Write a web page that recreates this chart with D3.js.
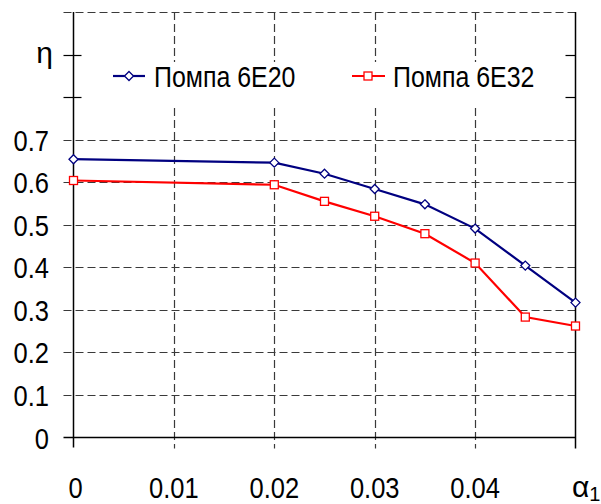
<!DOCTYPE html>
<html>
<head>
<meta charset="utf-8">
<script src="https://cdn.jsdelivr.net/npm/d3@7"></script>
<style>
  html, body { margin: 0; padding: 0; background: #fff; }
  svg { display: block; }
  text { font-family: "Liberation Sans", Arial, sans-serif; fill: #000; }
</style>
</head>
<body>
<svg id="chart" width="601" height="504"></svg>
<script>
// Relative gap α1 and efficiency η of two pumps
const alphaValues = [0, 0.02, 0.025, 0.03, 0.035, 0.04, 0.045, 0.05];
const eta6E20 = [0.654, 0.646, 0.620, 0.584, 0.548, 0.491, 0.404, 0.317];
const eta6E32 = [0.604, 0.594, 0.555, 0.520, 0.479, 0.410, 0.283, 0.262];
const seriesNames = ["Помпа 6E20", "Помпа 6E32"];
const xTickValues = [0, 0.01, 0.02, 0.03, 0.04, 0.05];
const xTickLabels = ["0", "0.01", "0.02", "0.03", "0.04", ""];
const yTickValues = [0, 0.1, 0.2, 0.3, 0.4, 0.5, 0.6, 0.7, 0.8, 0.9, 1.0];
const yTickLabels = ["0", "0.1", "0.2", "0.3", "0.4", "0.5", "0.6", "0.7", "", "", ""];
const yGridValues = [0.1, 0.2, 0.3, 0.4, 0.5, 0.6, 0.7, 1.0];

const svg = d3.select("#chart");
const pLeft = 73.5, pRight = 575.5, pTop = 12, pBottom = 437.5;

const x = d3.scaleLinear().domain([0, 0.05]).range([pLeft, pRight]);
const y = d3.scaleLinear().domain([0, 1]).range([pBottom, pTop]);

const gridColor = "#3a3a3a";
const dash = "8,4";
const narrow = 0.85;   // horizontal squeeze for the condensed lettering

// places a condensed text label at (tx, ty)
function label(parent, tx, ty, str, size, anchor, sx) {
  return parent.append("text")
    .attr("transform", `translate(${tx},${ty}) scale(${sx},1)`)
    .attr("text-anchor", anchor).attr("font-size", size)
    .text(str);
}

// horizontal dashed grid (starts left of the axis, like an outer tick)
svg.append("g").selectAll("line").data(yGridValues).join("line")
  .attr("x1", pLeft - 10).attr("x2", pRight)
  .attr("y1", d => Math.round(y(d)) + 0.5).attr("y2", d => Math.round(y(d)) + 0.5)
  .attr("stroke", gridColor).attr("stroke-width", 1.2).attr("stroke-dasharray", dash);

// vertical dashed grid (runs below the axis, like an outer tick)
svg.append("g").selectAll("line").data(xTickValues.slice(1, 5)).join("line")
  .attr("x1", d => Math.round(x(d)) + 0.5).attr("x2", d => Math.round(x(d)) + 0.5)
  .attr("y1", pTop).attr("y2", pBottom + 11)
  .attr("stroke", gridColor).attr("stroke-width", 1.2).attr("stroke-dasharray", dash);

// ticks at 0.8 and 0.9 with no grid line
svg.append("g").selectAll("line").data([0.8, 0.9]).join("line")
  .attr("x1", pLeft - 10).attr("x2", pLeft + 8)
  .attr("y1", d => Math.round(y(d)) + 0.5).attr("y2", d => Math.round(y(d)) + 0.5)
  .attr("stroke", "#000").attr("stroke-width", 1.2);
svg.append("g").selectAll("line").data([0.8, 0.9]).join("line")
  .attr("x1", pRight - 10).attr("x2", pRight)
  .attr("y1", d => Math.round(y(d)) + 0.5).attr("y2", d => Math.round(y(d)) + 0.5)
  .attr("stroke", "#000").attr("stroke-width", 1.2);

// left axis, bottom axis, right border
svg.append("line").attr("x1", pLeft).attr("x2", pLeft).attr("y1", pTop).attr("y2", pBottom + 10)
  .attr("stroke", "#000").attr("stroke-width", 1.5);
svg.append("line").attr("x1", pLeft - 10).attr("x2", pRight).attr("y1", pBottom).attr("y2", pBottom)
  .attr("stroke", "#000").attr("stroke-width", 1.5);
svg.append("line").attr("x1", pRight).attr("x2", pRight).attr("y1", pTop).attr("y2", pBottom + 11)
  .attr("stroke", "#000").attr("stroke-width", 1.5);

// y tick labels
const yl = svg.append("g");
yTickValues.forEach((v, i) => {
  if (yTickLabels[i]) label(yl, 49, y(v) + 11, yTickLabels[i], 30, "end", narrow);
});

// η at the 0.9 level
svg.append("text").attr("x", 53).attr("y", y(0.9) + 8)
  .attr("text-anchor", "end").attr("font-size", 30).text("η");

// x tick labels
const xl = svg.append("g");
xTickValues.forEach((v, i) => {
  if (xTickLabels[i]) label(xl, x(v) + (v === 0 ? 2 : 0), 498, xTickLabels[i], 30, "middle", narrow);
});

// α1 label at the end of the x axis
const al = svg.append("text").attr("x", 572).attr("y", 497).attr("font-size", 30);
al.append("tspan").text("α");
al.append("tspan").attr("font-size", 20).attr("dy", 4).text("1");

// data series
const line = d3.line().x(d => x(d[0])).y(d => y(d[1]));
const s1 = alphaValues.map((a, i) => [a, eta6E20[i]]);
const s2 = alphaValues.map((a, i) => [a, eta6E32[i]]);

svg.append("path").datum(s2).attr("d", line)
  .attr("fill", "none").attr("stroke", "#ff0000").attr("stroke-width", 2.2);
svg.append("path").datum(s1).attr("d", line)
  .attr("fill", "none").attr("stroke", "#000080").attr("stroke-width", 2.2);

const diamond = (cx, cy, r) => `M${cx},${cy - r}L${cx + r},${cy}L${cx},${cy + r}L${cx - r},${cy}Z`;

svg.append("g").selectAll("rect").data(s2).join("rect")
  .attr("x", d => x(d[0]) - 4).attr("y", d => y(d[1]) - 4)
  .attr("width", 8).attr("height", 8)
  .attr("fill", "#fff").attr("stroke", "#ff0000").attr("stroke-width", 1.3);
svg.append("g").selectAll("path").data(s1).join("path")
  .attr("d", d => diamond(x(d[0]), y(d[1]), 4.5))
  .attr("fill", "#fff").attr("stroke", "#000080").attr("stroke-width", 1.3);

// legend
const lg = svg.append("g");
lg.append("rect").attr("x", 102).attr("y", 62).attr("width", 448).attr("height", 45).attr("fill", "#fff");
const ly = 76;
lg.append("line").attr("x1", 113).attr("x2", 145).attr("y1", ly).attr("y2", ly)
  .attr("stroke", "#000080").attr("stroke-width", 2.2);
lg.append("path").attr("d", diamond(129, ly, 4.5))
  .attr("fill", "#fff").attr("stroke", "#000080").attr("stroke-width", 1.3);
label(lg, 154, ly + 11, seriesNames[0], 29, "start", 0.86);
lg.append("line").attr("x1", 352).attr("x2", 385).attr("y1", ly).attr("y2", ly)
  .attr("stroke", "#ff0000").attr("stroke-width", 2.2);
lg.append("rect").attr("x", 364).attr("y", ly - 4).attr("width", 8).attr("height", 8)
  .attr("fill", "#fff").attr("stroke", "#ff0000").attr("stroke-width", 1.3);
label(lg, 393, ly + 11, seriesNames[1], 29, "start", 0.86);
</script>
</body>
</html>
